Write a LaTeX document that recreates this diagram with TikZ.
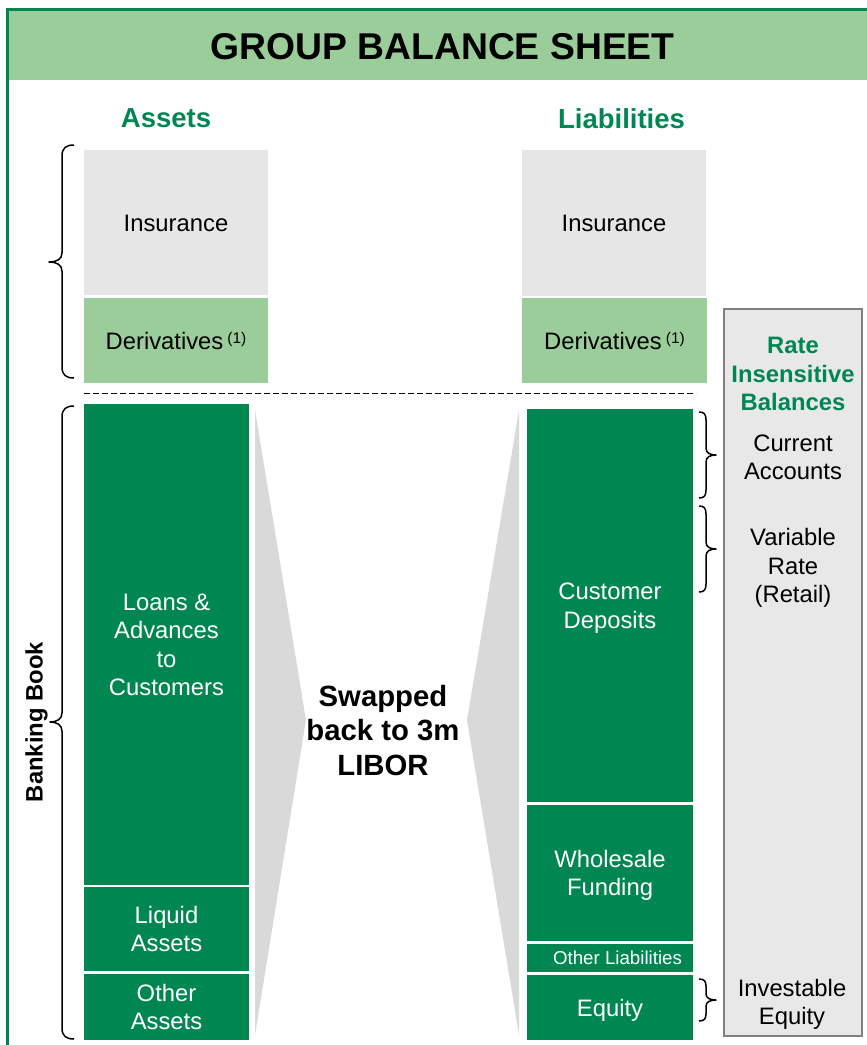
\documentclass[tikz,border=0pt]{standalone}
\usepackage{fontspec}
\setmainfont{Liberation Sans}
\definecolor{dkgreen}{RGB}{0,135,81}
\definecolor{ltgreen}{RGB}{155,205,155}
\definecolor{ltgray}{RGB}{230,230,230}
\definecolor{trigray}{RGB}{217,217,217}
\definecolor{ratefill}{RGB}{232,232,232}
\definecolor{rateline}{RGB}{128,128,128}
% invisible strut that centres each line on its capitals
\newcommand{\capln}{\rule[-0.22em]{0pt}{1.156em}}
\newcommand{\fBody}{\fontsize{23.8}{28.6}\selectfont}
\newcommand{\fSmall}{\fontsize{18.7}{22}\selectfont}
\newcommand{\fHead}{\fontsize{27.5}{33}\selectfont\bfseries}
\newcommand{\fTitle}{\fontsize{37.3}{44}\selectfont\bfseries}
\newcommand{\fSwap}{\fontsize{29.3}{34.5}\selectfont\bfseries}
\newcommand{\supone}{\hspace{4pt}\raisebox{6pt}{\fontsize{15.5}{18}\selectfont(1)}}
\begin{document}
\begin{tikzpicture}[x=1pt,y=-1pt,
  every node/.style={inner sep=0pt,outer sep=0pt},
  cell/.style={anchor=north west,align=center,font=\fBody},
  graycell/.style={cell,fill=ltgray,text=black},
  lgcell/.style={cell,fill=ltgreen,text=black},
  dgcell/.style={cell,fill=dkgreen,text=white},
  heading/.style={font=\fHead,text=dkgreen},
  note/.style={font=\fBody,align=center,text=black},
  bracepath/.style={draw=black,line width=1.5pt,line join=round},
]
\useasboundingbox (0,0) rectangle (867,1045);

% frame and title band
\begin{scope}
\clip (0,0) rectangle (867,1045);
\fill[ltgreen] (8,10) rectangle (880,80);
\draw[dkgreen,line width=2.5pt] (7.5,9.5) rectangle (900,1100);
\end{scope}
\node[font=\fTitle] (title) at (442.5,46.5) {\capln GROUP BALANCE SHEET};

% column headings
\node[heading] (hassets) at (166,118) {\capln Assets};
\node[heading] (hliab) at (621.5,119) {\capln Liabilities};

% trading book blocks
\node[graycell,minimum width=184pt,minimum height=145pt] (insA) at (84,150) {\capln Insurance};
\node[lgcell,minimum width=184pt,minimum height=85pt] (derA) at (84,298) {\capln Derivatives\supone};
\node[graycell,minimum width=184pt,minimum height=146pt] (insL) at (522,150) {\capln Insurance};
\node[lgcell,minimum width=185pt,minimum height=85pt] (derL) at (522,298) {\capln Derivatives\supone};

% divider between trading book and banking book
\coordinate (divL) at (84,393.5);
\coordinate (divR) at (696,393.5);
\draw[black,line width=1.4pt,dash pattern=on 6pt off 3pt] (divL) -- (divR);

% swap wedges
\fill[trigray] (255,410) -- (306,720) -- (255,1035) -- cycle;
\fill[trigray] (519,410) -- (467,720) -- (519,1035) -- cycle;

% banking book assets
\node[dgcell,minimum width=165pt,minimum height=481pt] (loans) at (84,404)
  {\capln Loans \&\\\capln Advances\\\capln to\\\capln Customers};
\node[dgcell,minimum width=165pt,minimum height=84pt] (liquid) at (84,887)
  {\capln Liquid\\\capln Assets};
\node[dgcell,minimum width=165pt,minimum height=66pt] (otherA) at (84,974)
  {\capln Other\\\capln Assets};

% banking book liabilities
\node[dgcell,minimum width=166pt,minimum height=393pt] (deposits) at (527,409)
  {\capln Customer\\\capln Deposits};
\node[dgcell,minimum width=166pt,minimum height=136pt] (wholesale) at (527,805)
  {\capln Wholesale\\\capln Funding};
\node[dgcell,minimum width=166pt,minimum height=28pt,font=\fSmall] (otherL) at (527,944)
  {\hspace*{15pt}\capln Other Liabilities};
\node[dgcell,minimum width=166pt,minimum height=65pt] (equity) at (527,975)
  {\capln Equity};

\node[font=\fSwap,align=center] (swap) at (383,730)
  {\capln Swapped\\\capln back to 3m\\\capln LIBOR};

% rate insensitive balances panel
\node[anchor=north west,fill=ratefill,draw=rateline,line width=2pt,
      minimum width=138pt,minimum height=727pt] (rate) at (724,309) {};
\node[font=\fBody\bfseries,text=dkgreen,align=center] (ratehead) at (793,373.5)
  {\capln Rate\\\capln Insensitive\\\capln Balances};
\node[note] (curacc) at (793,457) {\capln Current\\\capln Accounts};
\node[note] (varrate) at (793,565.5) {\capln Variable\\\capln Rate\\\capln (Retail)};
\node[note] (invest) at (792,1002) {\capln Investable\\\capln Equity};

% banking book label
\node[font=\fBody\bfseries,rotate=90] (bbook) at (34,722) {\capln Banking Book};

% left braces
\draw[bracepath] (74,145) .. controls (66,145) and (62,148) .. (62,156)
  -- (62,253) .. controls (62,259) and (57,262) .. (49,262)
  .. controls (57,262) and (62,265) .. (62,271)
  -- (62,367) .. controls (62,375) and (66,378) .. (74,378);
\draw[bracepath] (74,406) .. controls (66,406) and (62,409) .. (62,417)
  -- (62,713) .. controls (62,719) and (57,722) .. (50,722)
  .. controls (57,722) and (62,725) .. (62,731)
  -- (62,1028) .. controls (62,1036) and (66,1039) .. (74,1039);

% right braces
\draw[bracepath] (699,412) .. controls (704,412) and (706,414) .. (706,420)
  -- (706,448) .. controls (706,453) and (710,455) .. (716,455)
  .. controls (710,455) and (706,457) .. (706,462)
  -- (706,490) .. controls (706,496) and (704,498) .. (699,498);
\draw[bracepath] (699,506) .. controls (704,506) and (706,508) .. (706,514)
  -- (706,542) .. controls (706,547) and (710,549) .. (716,549)
  .. controls (710,549) and (706,551) .. (706,556)
  -- (706,584) .. controls (706,590) and (704,592) .. (699,592);
\draw[bracepath] (699,979) .. controls (704,979) and (706,981) .. (706,986)
  -- (706,994) .. controls (706,998) and (710,1000) .. (716,1000)
  .. controls (710,1000) and (706,1002) .. (706,1006)
  -- (706,1014) .. controls (706,1019) and (704,1021) .. (699,1021);
\end{tikzpicture}
\end{document}
